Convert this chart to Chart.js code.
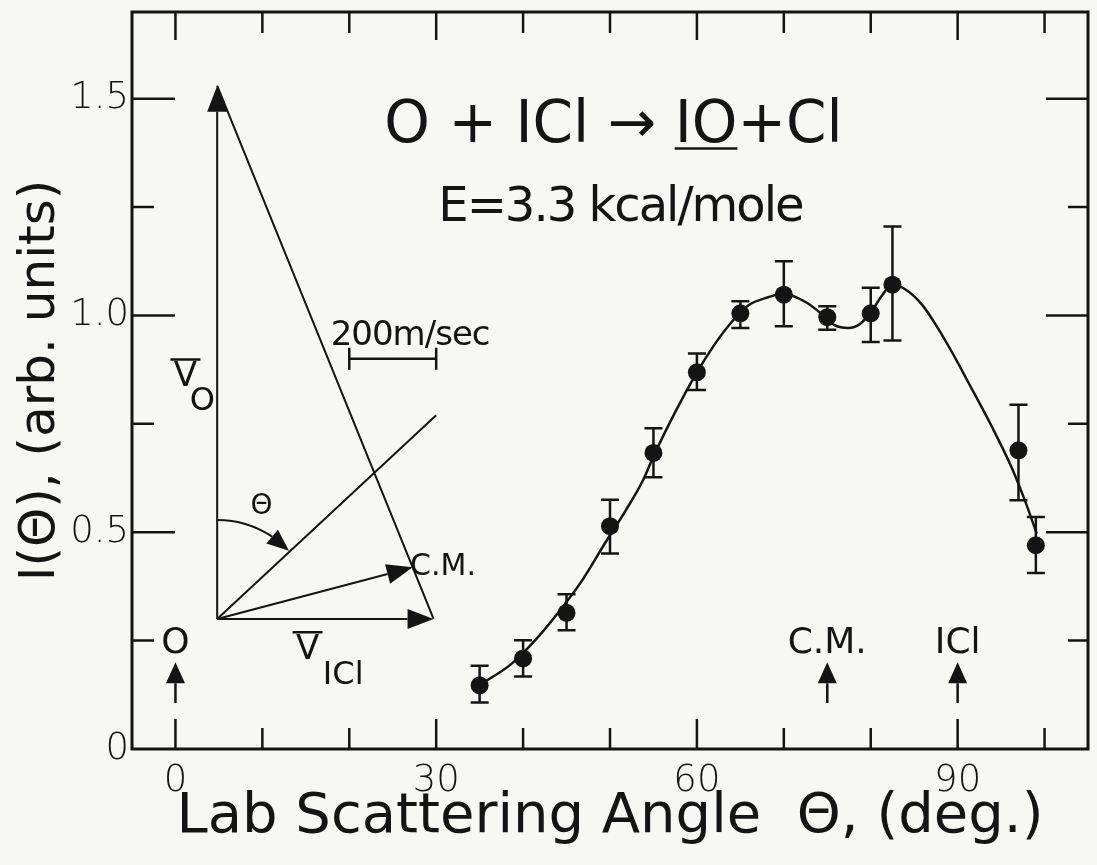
<!DOCTYPE html>
<html>
<head>
<meta charset="utf-8">
<script src="https://cdn.jsdelivr.net/npm/chart.js@4.4.1/dist/chart.umd.min.js"></script>
<style>
  html, body { margin: 0; padding: 0; background: #f7f7f4; }
  canvas { display: block; }
</style>
</head>
<body>
<canvas id="angularChart" width="1097" height="865"></canvas>
<script>
const angles    = [35, 40, 45, 50, 55, 60, 65, 70, 75, 80, 82.5, 97, 99];
const intensity = [0.147, 0.209, 0.314, 0.514, 0.683, 0.869, 1.005, 1.048, 0.996, 1.005, 1.071, 0.689, 0.470];
const errHigh   = [0.192, 0.251, 0.357, 0.575, 0.740, 0.912, 1.033, 1.125, 1.021, 1.064, 1.205, 0.794, 0.535];
const errLow    = [0.107, 0.167, 0.274, 0.451, 0.627, 0.828, 0.971, 0.975, 0.967, 0.939, 0.942, 0.574, 0.406];

// hand-drawn smooth curve through the data
const curveAngles = [35.2, 38.7, 41.4, 44.1, 46.8, 49.4, 51.8, 53.8, 55.0, 57.5, 59.8, 62.1, 64.0, 65.9,
                     68.2, 69.9, 72.5, 74.8, 75.9, 77.4, 78.8, 80.1, 81.3, 82.4, 84.0, 85.9, 87.6,
                     89.5, 91.3, 93.9, 96.2, 97.8, 99.1];
const curveValues = [0.150, 0.197, 0.251, 0.316, 0.389, 0.474, 0.550, 0.620, 0.675, 0.777, 0.862, 0.935, 0.985, 1.023,
                     1.042, 1.050, 1.031, 0.996, 0.977, 0.971, 0.981, 1.010, 1.046, 1.070, 1.060, 1.025, 0.975,
                     0.910, 0.843, 0.745, 0.650, 0.570, 0.497];

// tick values
const xLabelTicks = [0, 30, 60, 90];
const xMarkTicks  = [0, 10, 20, 30, 40, 50, 60, 70, 80, 90, 100];
const yLabelTicks = [0, 0.5, 1.0, 1.5];
const yMarkTicks  = [0.25, 0.5, 0.75, 1.0, 1.25, 1.5];

// beam directions marked under the data
const markerAngles = [0, 75, 90];
const markerLabels = ["O", "C.M.", "ICl"];

const INK = "#141414";
const FONT = '"DejaVu Sans", sans-serif';

const errorBars = {
    id: "errorBars",
    beforeDatasetsDraw(chart) {
        const ctx = chart.ctx;
        const xs = chart.scales.x, ys = chart.scales.y;
        ctx.save();
        ctx.strokeStyle = INK;
        ctx.lineWidth = 2.5;
        angles.forEach((a, i) => {
            const x = xs.getPixelForValue(a);
            const y1 = ys.getPixelForValue(errLow[i]);
            const y2 = ys.getPixelForValue(errHigh[i]);
            ctx.beginPath();
            ctx.moveTo(x, y1); ctx.lineTo(x, y2);
            ctx.moveTo(x - 9, y1); ctx.lineTo(x + 9, y1);
            ctx.moveTo(x - 9, y2); ctx.lineTo(x + 9, y2);
            ctx.stroke();
        });
        ctx.restore();
    }
};

function arrow(ctx, x1, y1, x2, y2, len, half) {
    const ang = Math.atan2(y2 - y1, x2 - x1);
    const bx = x2 - len * Math.cos(ang), by = y2 - len * Math.sin(ang);
    ctx.beginPath();
    ctx.moveTo(x1, y1); ctx.lineTo(bx, by);
    ctx.stroke();
    ctx.beginPath();
    ctx.moveTo(x2, y2);
    ctx.lineTo(bx + half * Math.sin(ang), by - half * Math.cos(ang));
    ctx.lineTo(bx - half * Math.sin(ang), by + half * Math.cos(ang));
    ctx.closePath();
    ctx.fill();
}

const frame = {
    id: "frame",
    beforeDraw(chart) {
        const ctx = chart.ctx;
        ctx.save();
        ctx.fillStyle = "#f7f7f4";
        ctx.fillRect(0, 0, chart.width, chart.height);
        ctx.restore();
    },
    afterDraw(chart) {
        const ctx = chart.ctx;
        const a = chart.chartArea;
        const xs = chart.scales.x, ys = chart.scales.y;
        const X = v => xs.getPixelForValue(v);
        const Y = v => ys.getPixelForValue(v);
        ctx.save();
        ctx.strokeStyle = INK;
        ctx.fillStyle = INK;

        // box
        ctx.lineWidth = 3;
        ctx.strokeRect(a.left, a.top, a.right - a.left, a.bottom - a.top);

        // inward ticks on all four sides
        ctx.lineWidth = 2.5;
        ctx.beginPath();
        xMarkTicks.forEach(v => {
            const major = v % 30 === 0;
            ctx.moveTo(X(v), a.bottom); ctx.lineTo(X(v), a.bottom - (major ? 30 : 21));
            ctx.moveTo(X(v), a.top); ctx.lineTo(X(v), a.top + (major ? 28 : 21));
        });
        yMarkTicks.forEach(v => {
            const major = Math.abs(v * 2 - Math.round(v * 2)) < 1e-6;
            ctx.moveTo(a.left, Y(v)); ctx.lineTo(a.left + (major ? 43 : 22), Y(v));
            ctx.moveTo(a.right, Y(v)); ctx.lineTo(a.right - (major ? 42 : 20), Y(v));
        });
        ctx.stroke();

        // reaction title
        ctx.textBaseline = "alphabetic";
        ctx.font = "58px " + FONT;
        const left = "O + ICl \u2192 ", prod = "IO", right = "+Cl";
        const full = left + prod + right;
        const w = ctx.measureText(full).width;
        const tx = X(50.4) - w / 2, ty = Y(1.399);
        ctx.textAlign = "left";
        ctx.fillText(full, tx, ty);
        const u1 = tx + ctx.measureText(left).width;
        const u2 = u1 + ctx.measureText(prod).width;
        ctx.lineWidth = 2.5;
        ctx.beginPath();
        ctx.moveTo(u1, ty + 6); ctx.lineTo(u2, ty + 6);
        ctx.stroke();

        ctx.font = "48px " + FONT;
        ctx.letterSpacing = "-2px";
        ctx.textAlign = "center";
        ctx.fillText("E=3.3 kcal/mole", X(51.2), Y(1.219));
        ctx.letterSpacing = "0px";

        // velocity vector diagram
        const ox = X(4.8), oy = Y(0.3);
        ctx.lineWidth = 2;
        arrow(ctx, ox, oy, X(4.8), Y(1.53), 26, 10);
        arrow(ctx, ox, oy, X(29.7), Y(0.3), 26, 10);
        arrow(ctx, ox, oy, X(27.3), Y(0.419), 26, 10);
        ctx.beginPath();
        ctx.moveTo(X(4.8), Y(1.53)); ctx.lineTo(X(29.7), Y(0.3));
        ctx.moveTo(ox, oy); ctx.lineTo(X(30), Y(0.77));
        ctx.stroke();

        // lab angle arc
        const labAng = Math.atan2(Y(0.77) - oy, X(30) - ox);
        const r = 99;
        const endAng = labAng - 0.01;
        const stopAng = endAng - 22 / r;
        ctx.beginPath();
        ctx.arc(ox, oy, r, -Math.PI / 2, stopAng);
        ctx.stroke();
        const tipX = ox + r * Math.cos(endAng), tipY = oy + r * Math.sin(endAng);
        const baseX = ox + r * Math.cos(stopAng), baseY = oy + r * Math.sin(stopAng);
        arrow(ctx, baseX, baseY, tipX, tipY, 22, 9);

        ctx.font = "28px " + FONT;
        ctx.textAlign = "center";
        ctx.textBaseline = "middle";
        ctx.fillText("\u0398", X(9.9), Y(0.558));

        ctx.font = "30px " + FONT;
        ctx.textAlign = "left";
        ctx.fillText("C.M.", X(27.0), Y(0.42));

        // V-bar labels
        ctx.font = "34px " + FONT;
        ctx.textAlign = "center";
        ctx.fillText("V", X(1.15), Y(0.857));
        ctx.fillText("V", X(15.2), Y(0.228));
        ctx.lineWidth = 2.5;
        ctx.beginPath();
        ctx.moveTo(X(1.15) - 15, Y(0.857) - 18); ctx.lineTo(X(1.15) + 15, Y(0.857) - 18);
        ctx.moveTo(X(15.2) - 15, Y(0.228) - 18); ctx.lineTo(X(15.2) + 15, Y(0.228) - 18);
        ctx.stroke();
        ctx.font = "32px " + FONT;
        ctx.fillText("O", X(3.1), Y(0.80));
        ctx.fillText("ICl", X(19.3), Y(0.168));

        // velocity scale bar
        ctx.font = "34px " + FONT;
        ctx.letterSpacing = "-1px";
        ctx.textAlign = "center";
        ctx.textBaseline = "alphabetic";
        ctx.fillText("200m/sec", X(27.0), Y(0.931));
        ctx.letterSpacing = "0px";
        ctx.lineWidth = 2.5;
        const sy = Y(0.9);
        ctx.beginPath();
        ctx.moveTo(X(20), sy); ctx.lineTo(X(30), sy);
        ctx.moveTo(X(20), sy - 11); ctx.lineTo(X(20), sy + 11);
        ctx.moveTo(X(30), sy - 11); ctx.lineTo(X(30), sy + 11);
        ctx.stroke();

        // beam direction markers
        ctx.lineWidth = 2.5;
        ctx.font = "36px " + FONT;
        ctx.textAlign = "center";
        ctx.textBaseline = "middle";
        markerAngles.forEach((m, i) => {
            ctx.fillText(markerLabels[i], X(m), Y(0.244));
            arrow(ctx, X(m), Y(0.106), X(m), Y(0.2), 21, 9.5);
        });

        ctx.restore();
    }
};

const ctx = document.getElementById("angularChart").getContext("2d");

new Chart(ctx, {
    type: "scatter",
    data: {
        datasets: [{
            label: "fit",
            data: curveAngles.map((a, i) => ({ x: a, y: curveValues[i] })),
            showLine: true,
            pointRadius: 0,
            borderColor: INK,
            borderWidth: 2.5,
            cubicInterpolationMode: "monotone",
            order: 2
        }, {
            label: "IO signal",
            data: angles.map((a, i) => ({ x: a, y: intensity[i] })),
            showLine: false,
            pointRadius: 9,
            pointBackgroundColor: INK,
            pointBorderColor: INK,
            pointBorderWidth: 0,
            order: 1
        }]
    },
    options: {
        responsive: false,
        animation: false,
        devicePixelRatio: 1,
        layout: { padding: { top: 12, right: 7, left: 0, bottom: 0 } },
        plugins: {
            legend: { display: false },
            tooltip: { enabled: false }
        },
        scales: {
            x: {
                type: "linear",
                min: -5,
                max: 105,
                afterBuildTicks: s => { s.ticks = xLabelTicks.map(v => ({ value: v })); },
                afterFit: s => { s.height = 116; s.paddingLeft = 0; s.paddingRight = 0; },
                grid: { display: false, drawTicks: false },
                border: { display: false },
                ticks: {
                    color: INK,
                    font: { family: FONT, size: 37, weight: "200" },
                    padding: 10,
                    maxRotation: 0,
                    autoSkip: false,
                    callback: v => String(v)
                },
                title: {
                    display: true,
                    text: "Lab Scattering Angle  \u0398, (deg.)",
                    color: INK,
                    font: { family: FONT, size: 56 },
                    padding: { top: 0, bottom: 14 }
                }
            },
            y: {
                type: "linear",
                min: 0,
                max: 1.7,
                afterBuildTicks: s => { s.ticks = yLabelTicks.map(v => ({ value: v })); },
                afterFit: s => { s.width = 132; s.paddingTop = 0; s.paddingBottom = 0; },
                grid: { display: false, drawTicks: false },
                border: { display: false },
                ticks: {
                    color: INK,
                    font: { family: FONT, size: 37, weight: "200" },
                    padding: 3,
                    autoSkip: false,
                    callback: v => (v === 0 ? "0" : v.toFixed(1))
                },
                title: {
                    display: true,
                    text: "I(\u0398), (arb. units)",
                    color: INK,
                    font: { family: FONT, size: 50 },
                    padding: { top: 11, bottom: 0 }
                }
            }
        }
    },
    plugins: [errorBars, frame]
});
</script>
</body>
</html>
